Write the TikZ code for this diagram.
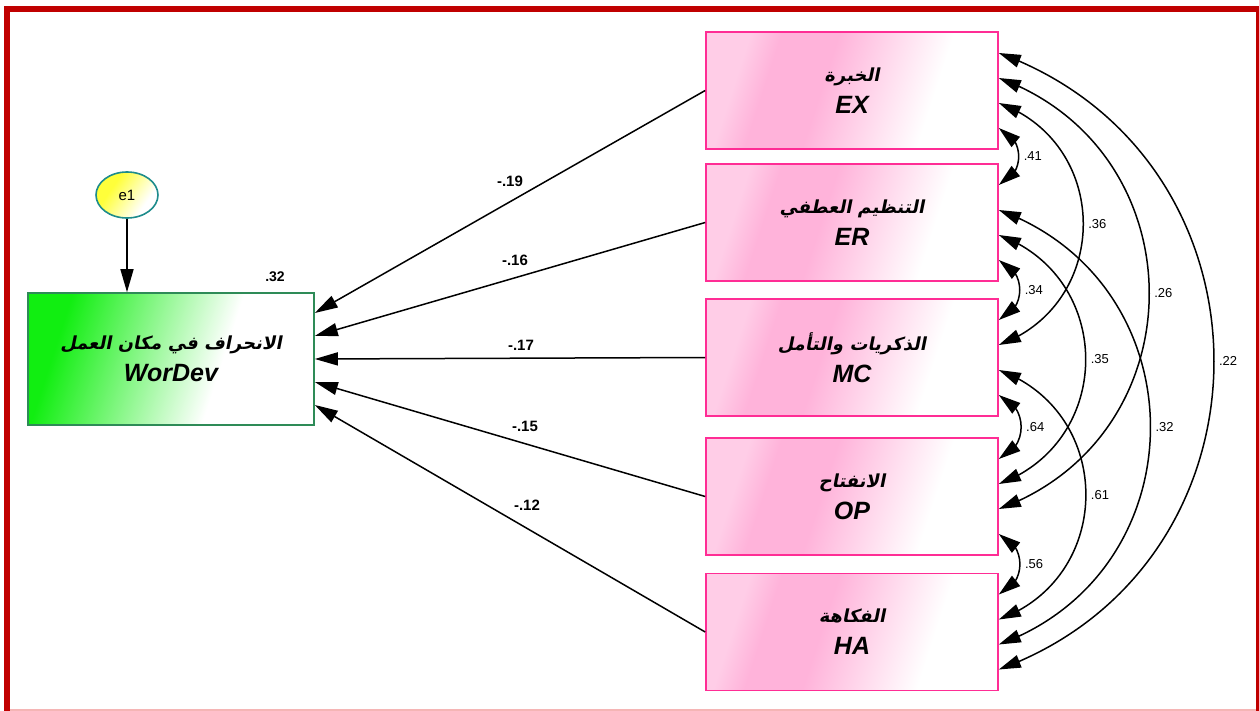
\documentclass[tikz,border=0pt]{standalone}
\usepackage{fontspec}
\setmainfont{Liberation Sans}
\newfontfamily\arfont[Script=Arabic,FakeSlant=0.2]{DejaVu Sans Bold}
\TeXXeTstate=1
\usetikzlibrary{arrows.meta,bending,positioning,shapes.geometric}
\definecolor{FrameRed}{HTML}{C00000}
\definecolor{FramePink}{HTML}{F5B5B5}
\definecolor{BoxPink}{HTML}{FF2D95}
\definecolor{FillPink}{HTML}{FFB3DA}
\definecolor{EdgePink}{HTML}{FFCDE7}
\definecolor{BoxGreen}{HTML}{2E8B57}
\definecolor{FillGreen}{HTML}{11EE11}
\definecolor{ErrTeal}{HTML}{1E8C8C}
\definecolor{ErrYellow}{HTML}{FFFF3A}
\pgfdeclarehorizontalshading{pinkfade}{100bp}{color(0bp)=(EdgePink); color(27bp)=(EdgePink); color(33bp)=(FillPink); color(44bp)=(FillPink); color(66bp)=(white); color(100bp)=(white)}
\pgfdeclarehorizontalshading{greenfade}{100bp}{color(0bp)=(FillGreen); color(27bp)=(FillGreen); color(60bp)=(white); color(100bp)=(white)}
\pgfdeclarehorizontalshading{yellowfade}{100bp}{color(0bp)=(ErrYellow); color(35bp)=(ErrYellow); color(68bp)=(white); color(100bp)=(white)}
\newcommand\artext[1]{{\normalfont\arfont\fontsize{18}{22}\selectfont\beginR#1\endR}}

\begin{document}
\begin{tikzpicture}[x=1pt,y=-1pt,
ind/.style={draw=BoxPink,line width=1.6pt,shade,shading=pinkfade,shading angle=-18,minimum width=292pt,minimum height=117pt,align=center,font=\bfseries\itshape\fontsize{25}{28}\selectfont},
dv/.style={draw=BoxGreen,line width=1.6pt,shade,shading=greenfade,shading angle=-18,minimum width=286pt,minimum height=132pt,align=center,font=\bfseries\itshape\fontsize{25}{28}\selectfont},
err/.style={ellipse,draw=ErrTeal,line width=1.6pt,shade,shading=yellowfade,shading angle=-35,minimum width=62pt,minimum height=46pt,font=\fontsize{15}{18}\selectfont},
reg/.style={-{Triangle[length=23pt,width=13pt]},line width=1.5pt},
cov/.style={{Triangle[length=22pt,width=13pt]}-{Triangle[length=22pt,width=13pt]},line width=1.5pt},
wt/.style={font=\bfseries\fontsize{15}{18}\selectfont},
cv/.style={font=\fontsize{13}{16}\selectfont}]
\useasboundingbox (0,0) rectangle (1259,711);
% frame
\draw[FrameRed,line width=6pt] (7,711) -- (7,9) -- (1259,9) -- (1259,711);
\draw[FramePink,line width=1.5pt] (10,710) -- (1256,710);
% observed variables
\node[dv] (WD) at (171,359) {\artext{الانحراف في مكان العمل}\\[4pt]WorDev};
\node[err] (e1) at (127,195) {e1};
\node[ind] (EX) at (852,90.5) {\artext{الخبرة}\\[4pt]EX};
\node[ind] (ER) at (852,222.5) {\artext{التنظيم العطفي}\\[4pt]ER};
\node[ind] (MC) at (852,357.5) {\artext{الذكريات والتأمل}\\[4pt]MC};
\node[ind] (OP) at (852,496.5) {\artext{الانفتاح}\\[4pt]OP};
\node[ind] (HA) at (852,632) {\artext{الفكاهة}\\[4pt]HA};
\node[wt,font=\bfseries\fontsize{14}{17}\selectfont] (R2) at (275,277) {.32};
\draw[reg] (e1) -- (e1.south |- WD.north);
% paths to WorDev
\foreach \s/\t/\v/\dx/\dy in {EX/46/-.19/0/20,ER/23/-.16/5/19,MC/0/-.17/11/13,OP/-23/-.15/15/13,HA/-46/-.12/17/13}
  \draw[reg] (\s.west) -- node[wt,xshift=\dx pt,yshift=\dy pt] {\v} ([yshift=\t pt]WD.east);
% covariances
\foreach \s/\i/\t/\j/\v in {EX/-37.5/ER/37.5/.41,ER/-37.5/MC/37.5/.34,MC/-37.5/OP/37.5/.64,OP/-37.5/HA/37.5/.56,
  EX/-12.5/MC/12.5/.36,ER/-12.5/OP/12.5/.35,MC/-12.5/HA/12.5/.61,
  EX/12.5/OP/-12.5/.26,ER/12.5/HA/-12.5/.32,EX/37.5/HA/-37.5/.22}
  \draw[cov] ([yshift=\i pt]\s.east) to[bend left=70,looseness=1.27] node[cv,right=1pt] {\v} ([yshift=\j pt]\t.east);
\end{tikzpicture}
\end{document}
